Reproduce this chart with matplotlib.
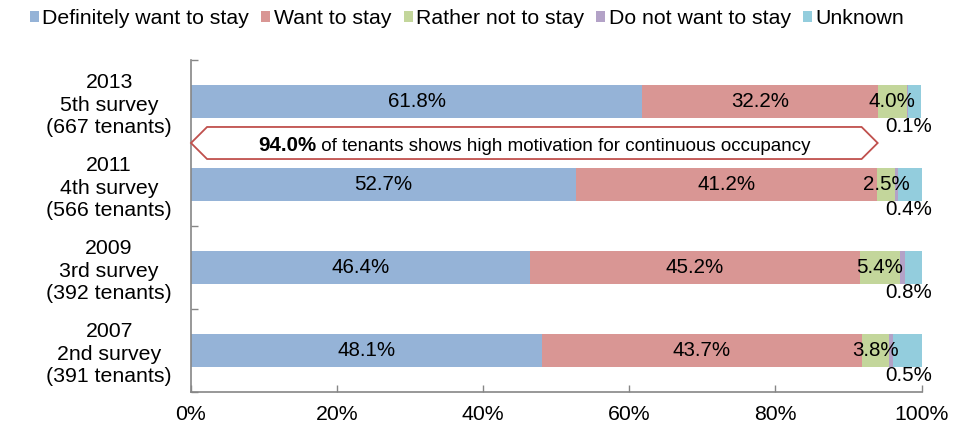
import matplotlib
matplotlib.use("Agg")
import matplotlib.pyplot as plt
from matplotlib.patches import Patch, Polygon
import numpy as np

plt.rcParams['font.family'] = ['Liberation Sans', 'DejaVu Sans']

categories = ["2013\n5th survey\n(667 tenants)",
              "2011\n4th survey\n(566 tenants)",
              "2009\n3rd survey\n(392 tenants)",
              "2007\n2nd survey\n(391 tenants)"]
series_names = ["Definitely want to stay", "Want to stay", "Rather not to stay",
                "Do not want to stay", "Unknown"]
definitely = [61.8, 52.7, 46.4, 48.1]
want = [32.2, 41.2, 45.2, 43.7]
rather_not = [4.0, 2.5, 5.4, 3.8]
do_not = [0.1, 0.4, 0.8, 0.5]
unknown = [1.9, 3.2, 2.2, 3.9]
xticks = [0, 20, 40, 60, 80, 100]
xtick_labels = ["0%", "20%", "40%", "60%", "80%", "100%"]
highlight_value = 94.0
highlight_bold = "94.0%"
highlight_text = " of tenants shows high motivation for continuous occupancy"

colors = ["#95B3D7", "#D99694", "#C3D69B", "#B3A2C7", "#93CDDD"]

fig = plt.figure(figsize=(9.68, 4.26), dpi=100)
ax = fig.add_axes([191/968, 34/426, (921.5-191)/968, (392-60)/426])

series = [definitely, want, rather_not, do_not, unknown]
y = np.arange(len(categories))
left = np.zeros(len(categories))
for vals, col, name in zip(series, colors, series_names):
    ax.barh(y, vals, left=left, height=0.4, color=col, linewidth=0, label=name)
    left = left + np.array(vals)

# labels for main segments
left = np.zeros(len(categories))
for si, vals in enumerate(series):
    for i, v in enumerate(vals):
        if si in (0, 1, 2):
            ax.text(left[i] + v / 2, y[i], f"{v:.1f}%", ha='center', va='center',
                    fontsize=14.8, color='black')
        elif si == 3:
            ax.text(98.3, y[i] + 0.3, f"{v:.1f}%", ha='center', va='center',
                    fontsize=14.8, color='black')
    left = left + np.array(vals)

ax.set_xlim(0, 100)
ax.set_ylim(len(categories) - 0.5, -0.5)
ax.set_xticks(xticks)
ax.set_xticklabels(xtick_labels, fontsize=15.3)
ax.set_yticks(y)
ax.set_yticklabels(categories, fontsize=15.3, linespacing=1.22)
for lbl in ax.get_yticklabels():
    lbl.set_multialignment('center')
ax.set_yticks(np.arange(-0.5, len(categories) + 0.5, 1), minor=True)
ax.tick_params(axis='y', which='major', length=0, pad=13.7)
ax.tick_params(axis='y', which='minor', direction='in', length=5, color='#868686', width=1)
ax.tick_params(axis='x', which='major', direction='in', length=5, color='#868686', width=1, pad=9)

for s in ['top', 'right']:
    ax.spines[s].set_visible(False)
for s in ['left', 'bottom']:
    ax.spines[s].set_color('#868686')
    ax.spines[s].set_linewidth(1.2)

# highlight arrow box between 2013 and 2011
yc = 0.5
hh = 0.193
notch = 2.2
poly = Polygon([(0, yc), (notch, yc - hh), (highlight_value - notch, yc - hh),
                (highlight_value, yc), (highlight_value - notch, yc + hh),
                (notch, yc + hh)], closed=True, facecolor='white',
               edgecolor='#C0504D', linewidth=1.3, zorder=5, clip_on=False)
ax.add_patch(poly)

t1 = ax.text(0, yc + 0.03, highlight_bold, fontsize=14.8, fontweight='bold',
             ha='left', va='center', zorder=6)
t2 = ax.annotate(highlight_text, xy=(1, 0), xycoords=t1, fontsize=13.5,
                 ha='left', va='bottom', zorder=6)
fig.canvas.draw()
r = fig.canvas.get_renderer()
b1 = t1.get_window_extent(r)
b2 = t2.get_window_extent(r)
total_px = b2.x1 - b1.x0
inv = ax.transData.inverted()
center_px = ax.transData.transform((highlight_value / 2, yc))[0]
start_data = inv.transform((center_px - total_px / 2, 0))[0]
t1.set_x(start_data)

handles = [Patch(facecolor=c, edgecolor='none') for c in colors]
fig.legend(handles, series_names, loc='center', bbox_to_anchor=(467/968, 1 - 18.5/426),
           ncol=5, frameon=False, fontsize=15.3, handlelength=0.42, handleheight=0.42,
           handletextpad=0.15, columnspacing=0.6, borderpad=0, borderaxespad=0)

fig.savefig("out.png", dpi=100)
